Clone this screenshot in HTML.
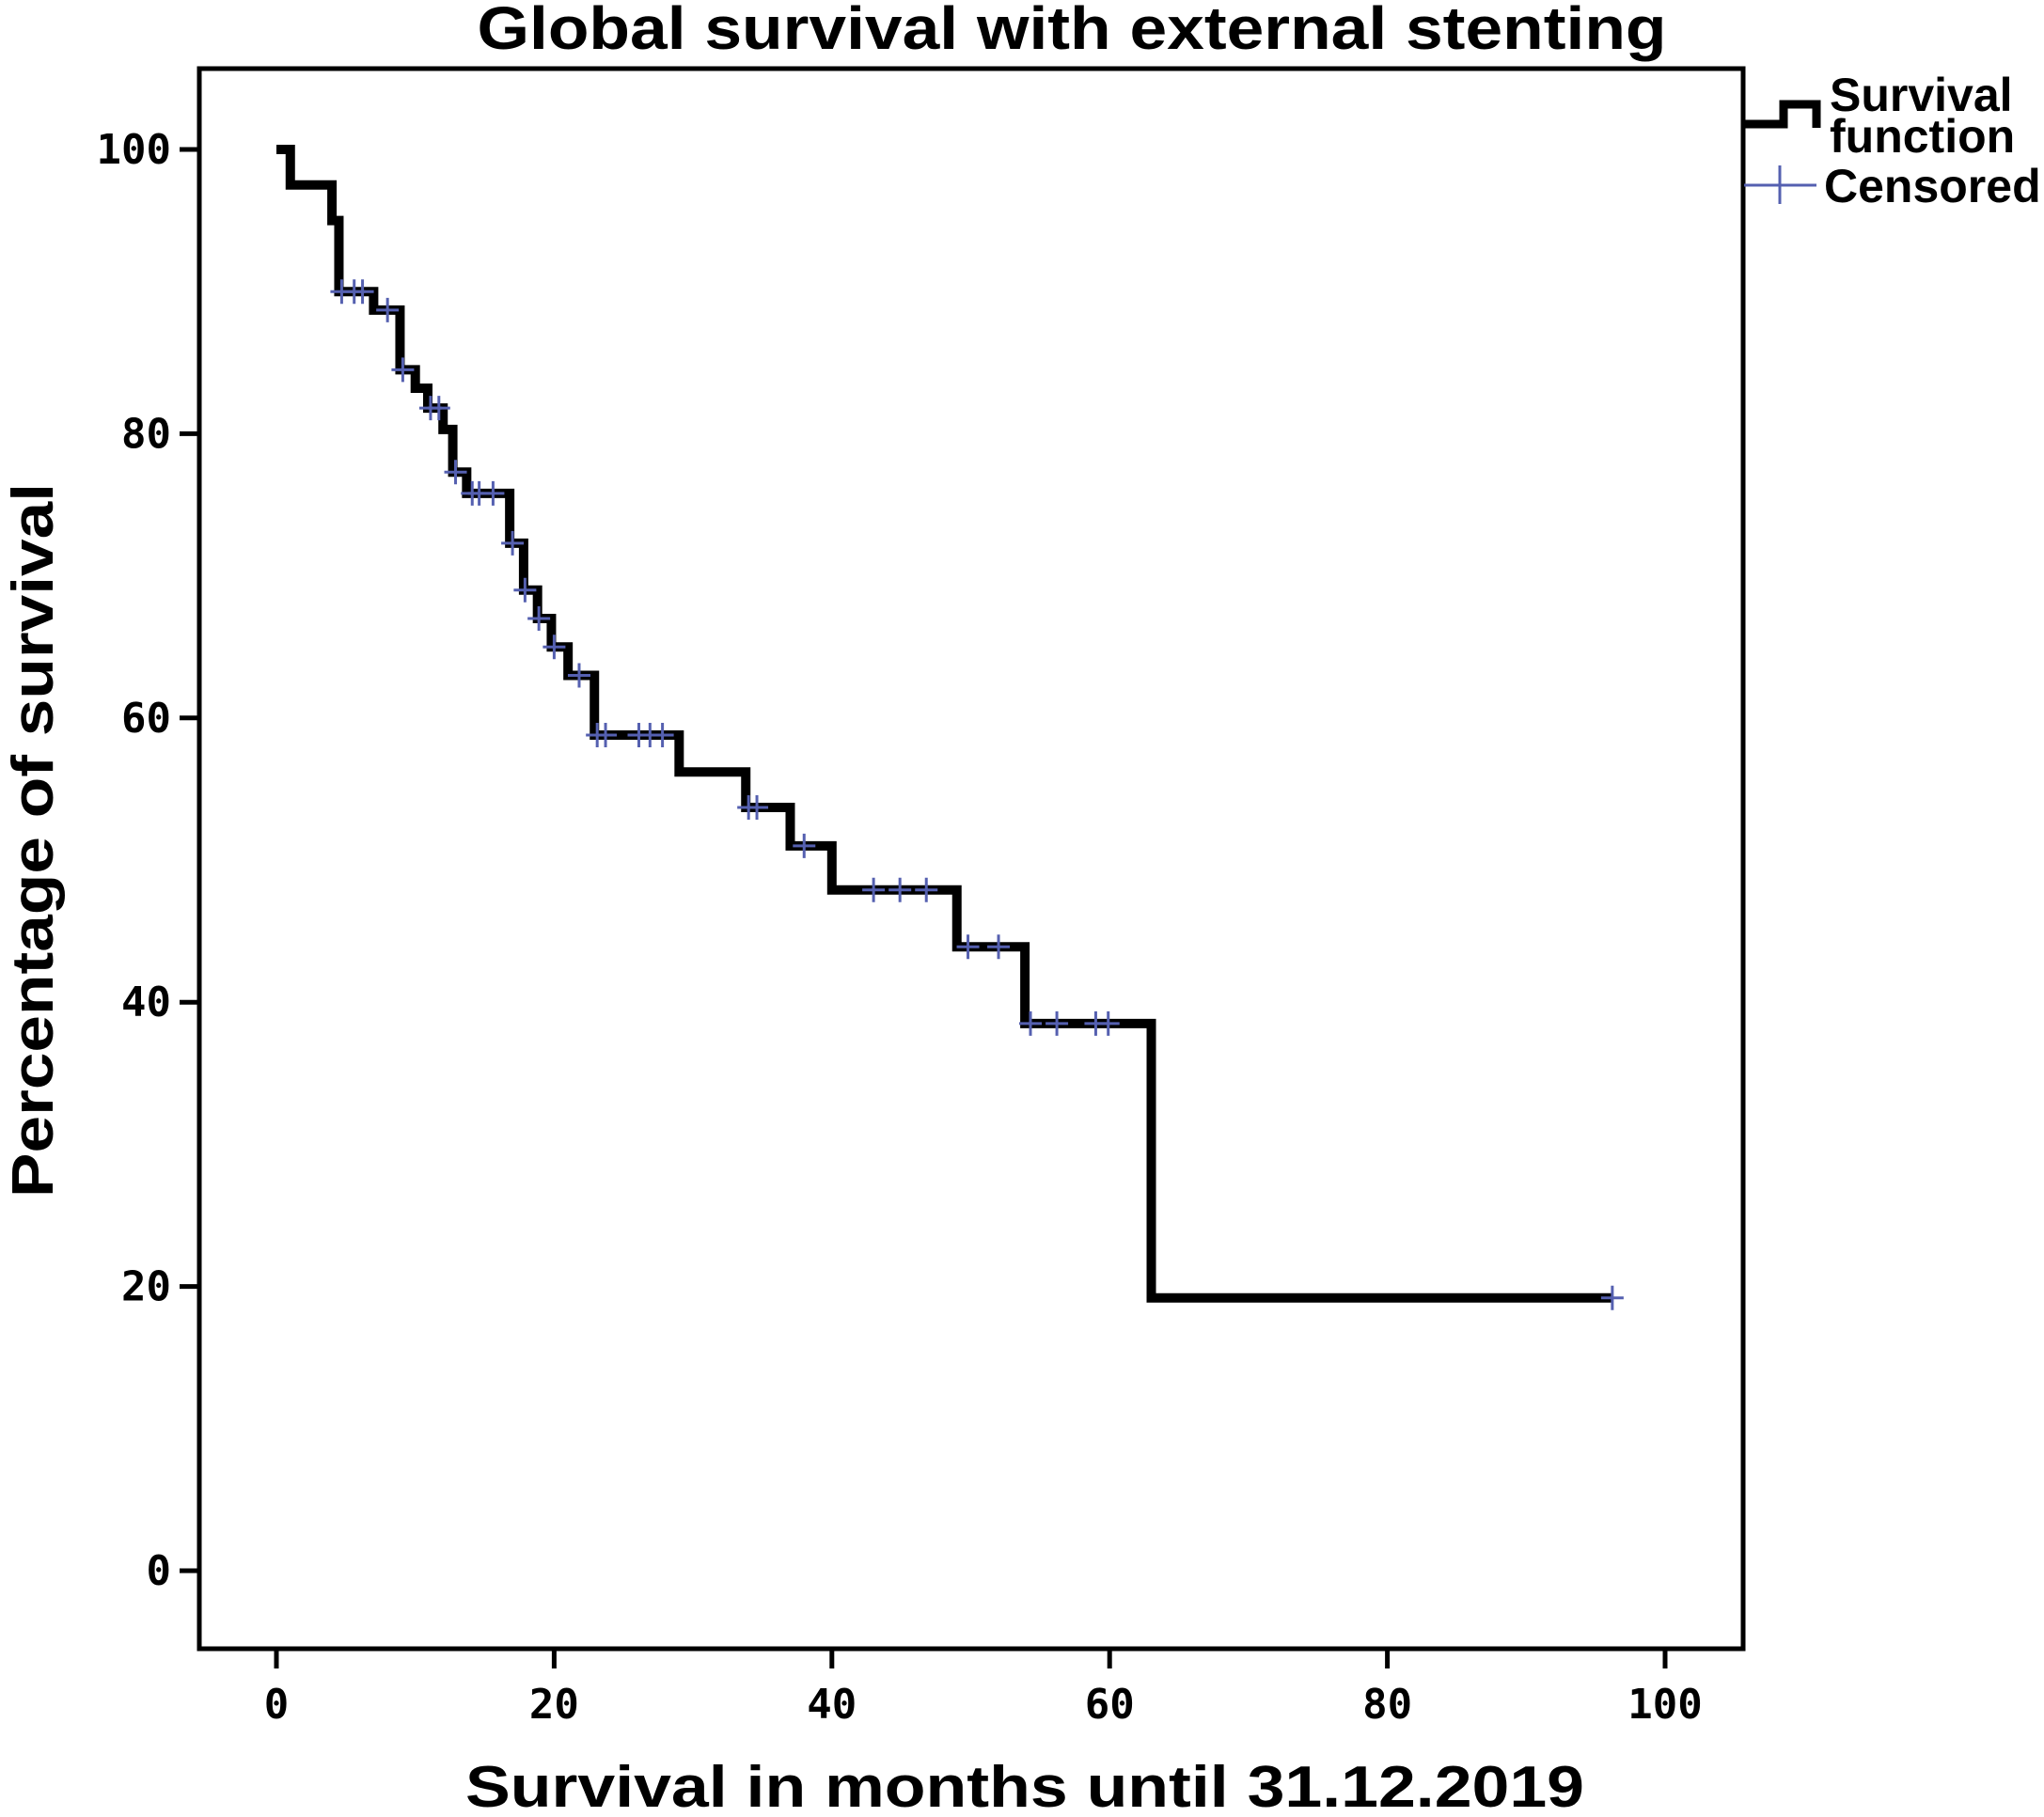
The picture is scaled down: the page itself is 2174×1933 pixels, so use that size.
<!DOCTYPE html>
<html><head><meta charset="utf-8"><style>
html,body{margin:0;padding:0;background:#fff;}
svg{display:block;}
</style></head><body>
<svg id="chart" width="2174" height="1933" viewBox="0 0 2174 1933" xmlns="http://www.w3.org/2000/svg">
<rect width="2174" height="1933" fill="#fff"/>
<text x="1140" y="52" text-anchor="middle" font-family="Liberation Sans, sans-serif" font-weight="bold" font-size="64" textLength="1265" lengthAdjust="spacingAndGlyphs">Global survival with external stenting</text>
<rect x="212" y="73" width="1642" height="1681" fill="none" stroke="#000" stroke-width="5"/>
<g id="yaxis"></g>
<g id="xaxis"></g>
<g id="series"></g>
<text transform="translate(56,894) rotate(-90)" text-anchor="middle" font-family="Liberation Sans, sans-serif" font-weight="bold" font-size="62" textLength="760" lengthAdjust="spacingAndGlyphs">Percentage of survival</text>
<text x="1090" y="1922" text-anchor="middle" font-family="Liberation Sans, sans-serif" font-weight="bold" font-size="62" textLength="1190" lengthAdjust="spacingAndGlyphs">Survival in months until 31.12.2019</text>
<g>
<path d="M1855 132 H1897 V111 H1932 V136" fill="none" stroke="#000" stroke-width="9"/>
<text font-family="Liberation Sans, sans-serif" font-weight="bold" font-size="50" x="1946" y="118">Survival</text>
<text font-family="Liberation Sans, sans-serif" font-weight="bold" font-size="50" x="1946" y="162">function</text>
<path d="M1855 197 H1932 M1893 176 V217" stroke="#5560b0" stroke-width="3"/>
<text font-family="Liberation Sans, sans-serif" font-weight="bold" font-size="50" x="1940" y="215">Censored</text>
</g>
</svg>
<script>
const eventTimes = [1,4,4.5,7,8.9,10,10.9,12,12.7,13.7,16.8,17.8,18.8,19.8,21,22.9,29,33.8,37,40,49,53.9,63];
const survivalAfter = [97.5,95,90,88.7,84.5,83.2,81.8,80.3,77.3,75.8,72.3,69,67,65,63,58.8,56.2,53.7,51,47.9,43.9,38.5,19.2];
const censorTimes = [4.7,5.6,6.2,8,9.1,11.1,11.7,12.9,14.1,14.6,15.6,17,17.9,18.9,20,21.8,23.1,23.7,26.1,26.9,27.8,34,34.6,38,43,44.9,46.8,49.8,52,54.3,56.2,59,59.9,96.2];
const endTime = 96.2;
const yTicks = [0,20,40,60,80,100];
const xTicks = [0,20,40,60,80,100];

const NS = 'http://www.w3.org/2000/svg';
const X0 = 294, X100 = 1771, Y0 = 1671, Y100 = 159;
function xs(v){ return X0 + (X100 - X0) * v / 100; }
function ys(v){ return Y0 - (Y0 - Y100) * v / 100; }
function mk(tag, attrs){ const e = document.createElementNS(NS, tag); for (const k in attrs) e.setAttribute(k, attrs[k]); return e; }
function survAt(t){ let s = 100; for (let i = 0; i < eventTimes.length; i++){ if (eventTimes[i] <= t) s = survivalAfter[i]; } return s; }

const yax = document.getElementById('yaxis');
yTicks.forEach(v => {
  const l = mk('line', {x1: 191, x2: 212, y1: ys(v), y2: ys(v), stroke: '#000', 'stroke-width': 5});
  
  
  yax.appendChild(l);
  const t = mk('text', {x: 182, y: ys(v) + 15, 'text-anchor': 'end', 'font-family': 'DejaVu Sans Mono, Liberation Mono, monospace', 'font-weight': 'bold', 'font-size': 44});
  t.textContent = v;
  
  
  yax.appendChild(t);
});
const xax = document.getElementById('xaxis');
xTicks.forEach(v => {
  const l = mk('line', {x1: xs(v), x2: xs(v), y1: 1754, y2: 1775, stroke: '#000', 'stroke-width': 5});
  
  
  xax.appendChild(l);
  const t = mk('text', {x: xs(v), y: 1828, 'text-anchor': 'middle', 'font-family': 'DejaVu Sans Mono, Liberation Mono, monospace', 'font-weight': 'bold', 'font-size': 44});
  t.textContent = v;
  
  
  xax.appendChild(t);
});

const ser = document.getElementById('series');
let d = 'M' + xs(0) + ' ' + ys(100);
eventTimes.forEach((t, i) => {
  d += ' H' + xs(t) + ' V' + ys(survivalAfter[i]);
});
d += ' H' + xs(endTime);
const path = mk('path', {d: d, fill: 'none', stroke: '#000', 'stroke-width': 10, 'stroke-linejoin': 'miter'});


ser.appendChild(path);
censorTimes.forEach(t => {
  const cx = xs(t), cy = ys(survAt(t));
  const p = mk('path', {d: 'M' + (cx - 12) + ' ' + cy + ' H' + (cx + 12) + ' M' + cx + ' ' + (cy - 13) + ' V' + (cy + 13), stroke: '#5560b0', 'stroke-width': 3});
  
  
  ser.appendChild(p);
});
</script>
</body></html>
